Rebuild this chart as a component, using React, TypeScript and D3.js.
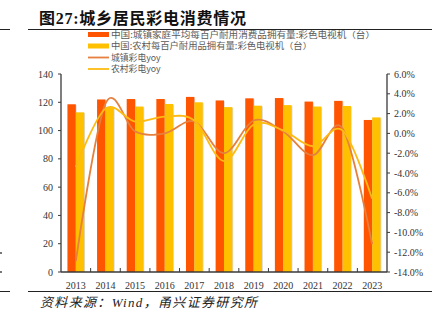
import React from "react";
import * as d3 from "d3";

const years = ["2013","2014","2015","2016","2017","2018","2019","2020","2021","2022","2023"];
const urbanTV = [118.6, 122.0, 122.3, 122.3, 123.8, 121.3, 122.8, 123.0, 120.5, 121.0, 107.5];
const ruralTV = [112.9, 116.6, 117.0, 118.8, 120.0, 116.6, 117.6, 118.0, 117.0, 117.4, 109.3];
const urbanYoy = [-12.9, 3.0, 0.2, 0.0, 1.2, -2.0, 1.3, 0.2, -2.2, 0.5, -11.2];
const ruralYoy = [-3.4, 2.5, 1.2, 1.7, 1.3, -2.8, 0.9, 0.3, -1.3, 0.3, -6.6];
const leftTicks = [0, 20, 40, 60, 80, 100, 120, 140];
const rightTicks = [-14, -12, -10, -8, -6, -4, -2, 0, 2, 4, 6];
const legendLabels = [
  "中国:城镇家庭平均每百户耐用消费品拥有量:彩色电视机（台）",
  "中国:农村每百户耐用品拥有量:彩色电视机（台）",
  "城镇彩电yoy",
  "农村彩电yoy",
];
const title = "图27:城乡居民彩电消费情况";
const source = "资料来源：Wind，甬兴证券研究所";

const C_URBAN = "#FF5500";
const C_RURAL = "#FFC000";
const C_URBAN_LINE = "#E5803E";
const C_RURAL_LINE = "#FDBB12";

export default function App() {
  const W = 436, H = 322;
  const x0 = 61, x1 = 387, yTop = 74, yBot = 272;
  const x = d3.scaleBand<string>().domain(years).range([x0, x1]);
  const bw = x.bandwidth() * 0.283;
  const yL = d3.scaleLinear().domain([0, 140]).range([yBot, yTop]);
  const yR = d3.scaleLinear().domain([-14, 6]).range([yBot, yTop]);
  const cx = (i: number) => (x(years[i]) as number) + x.bandwidth() / 2;
  const line = (vals: number[]) =>
    d3.line<number>().x((_, i) => cx(i)).y((v) => yR(v)).curve(d3.curveCardinal.tension(0))(vals) || "";

  const axisColor = "#3a3a3a";
  const serif = "'Times New Roman', 'Liberation Serif', 'DejaVu Serif', serif";
  const cjk = "'Noto Sans CJK SC', sans-serif";
  const legendWidths = [264, 201, 0, 0];

  return (
    <svg width={W} height={H} style={{ position: "absolute", left: 0, top: 0 }} xmlns="http://www.w3.org/2000/svg">
      <rect width={W} height={H} fill="#fff" />
      {/* title */}
      <text x={39} y={24} fontFamily={`${serif.split(",")[0]}, ${cjk}`} fontWeight="bold" fontSize={16} textLength={207} fill="#111">{title}</text>
      <line x1={28} x2={432} y1={29.5} y2={29.5} stroke="#222" strokeWidth={1} />
      <line x1={0} x2={10} y1={29.5} y2={29.5} stroke="#222" strokeWidth={1} />
      {/* legend */}
      {legendLabels.map((t, i) => {
        const ly = [34.5, 46, 57.5, 69][i];
        return (
          <g key={t}>
            {i < 2 ? (
              <rect x={88} y={ly - 2.5} width={21} height={5} fill={i === 0 ? C_URBAN : C_RURAL} />
            ) : (
              <line x1={88} x2={109} y1={ly} y2={ly} stroke={i === 2 ? C_URBAN_LINE : C_RURAL_LINE} strokeWidth={1.8} />
            )}
            <text x={111} y={ly + 3.3} fontFamily={cjk} fontSize={8.8}
              textLength={legendWidths[i] || undefined} lengthAdjust="spacingAndGlyphs" fill="#595959">{t}</text>
          </g>
        );
      })}
      {/* bars */}
      {years.map((yr, i) => {
        const c = cx(i);
        return (
          <g key={yr}>
            <rect x={c - bw + 0.8} y={yL(urbanTV[i]) + 0.8} width={bw} height={yBot - yL(urbanTV[i]) - 0.8} fill="#d9d9d9" />
            <rect x={c - bw} y={yL(urbanTV[i])} width={bw} height={yBot - yL(urbanTV[i])} fill={C_URBAN} />
            <rect x={c + 0.8} y={yL(ruralTV[i]) + 0.8} width={bw} height={yBot - yL(ruralTV[i]) - 0.8} fill="#d9d9d9" />
            <rect x={c} y={yL(ruralTV[i])} width={bw} height={yBot - yL(ruralTV[i])} fill={C_RURAL} />
          </g>
        );
      })}
      {/* lines */}
      <path d={line(urbanYoy)} fill="none" stroke={C_URBAN_LINE} strokeWidth={1.8} />
      <path d={line(ruralYoy)} fill="none" stroke={C_RURAL_LINE} strokeWidth={1.8} />
      {/* axes */}
      <line x1={x0} x2={x0} y1={yTop} y2={yBot} stroke={axisColor} strokeWidth={1.3} />
      <line x1={x1} x2={x1} y1={yTop} y2={yBot} stroke={axisColor} strokeWidth={1.3} />
      <line x1={x0} x2={x1} y1={yBot} y2={yBot} stroke={axisColor} strokeWidth={1.3} />
      {leftTicks.map((t) => (
        <g key={"l" + t}>
          <line x1={x0 - 3} x2={x0} y1={yL(t)} y2={yL(t)} stroke={axisColor} strokeWidth={1} />
          <text x={53} y={yL(t) + 3.5} textAnchor="end" fontFamily={serif} fontSize={10} fill="#333">{t}</text>
        </g>
      ))}
      {rightTicks.map((t) => (
        <g key={"r" + t}>
          <line x1={x1} x2={x1 + 3} y1={yR(t)} y2={yR(t)} stroke={axisColor} strokeWidth={1} />
          <text x={394} y={yR(t) + 3.5} fontFamily={serif} fontSize={10} fill="#333">{t.toFixed(1) + "%"}</text>
        </g>
      ))}
      {years.map((yr, i) => (
        <g key={"x" + yr}>
          {i > 0 && <line x1={x(yr)} x2={x(yr)} y1={yBot} y2={yBot - 4} stroke={axisColor} strokeWidth={1} />}
          <text x={cx(i)} y={288.5} textAnchor="middle" fontFamily={serif} fontSize={10} fill="#333">{yr}</text>
        </g>
      ))}
      {/* footer */}
      <line x1={28} x2={432} y1={291.5} y2={291.5} stroke="#222" strokeWidth={1} />
      <line x1={0} x2={10} y1={291.5} y2={291.5} stroke="#222" strokeWidth={1} />
      <rect x={0} y={252} width={2} height={2} fill="#777" />
      <rect x={0} y={271} width={2} height={2} fill="#777" />
      <text x={40} y={307} fontFamily={`${serif.split(",")[0]}, ${cjk}`} fontStyle="italic" fontSize={13} textLength={217} fill="#222">{source}</text>
    </svg>
  );
}
